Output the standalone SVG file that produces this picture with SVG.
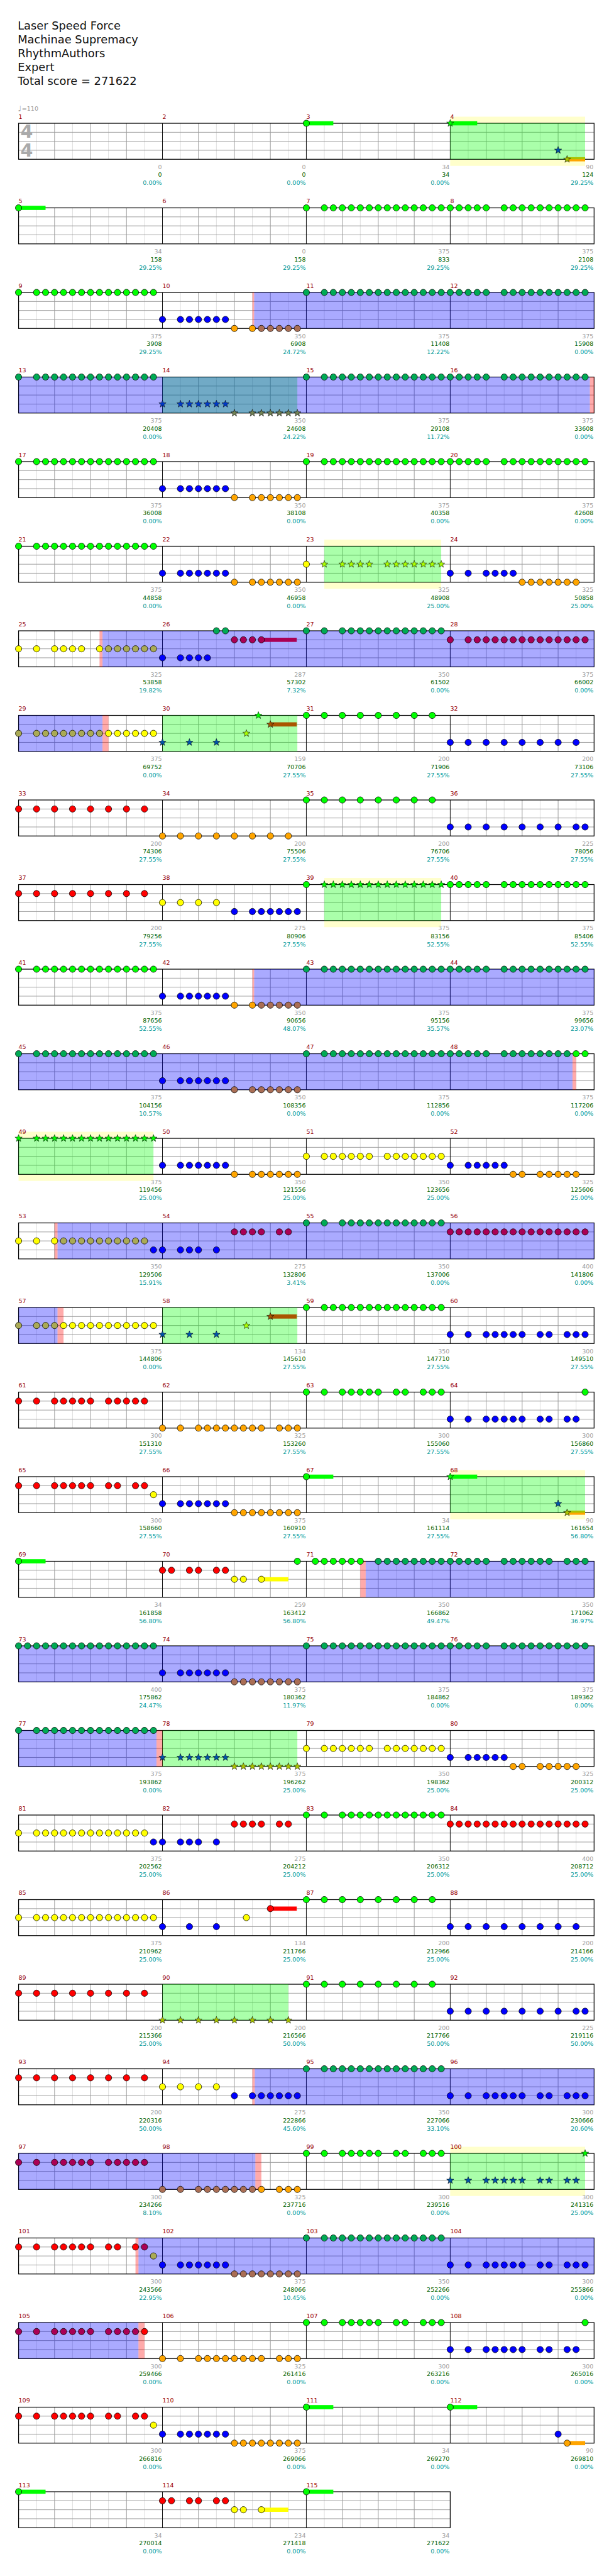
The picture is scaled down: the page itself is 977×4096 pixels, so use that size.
<svg xmlns="http://www.w3.org/2000/svg" xmlns:xlink="http://www.w3.org/1999/xlink" width="977" height="4096" viewBox="0 0 977 4096">
<defs>
<style>
.hd{font-family:"DejaVu Sans",Verdana,sans-serif;font-size:18.7px;fill:#111}
.mn{font-family:"DejaVu Sans",sans-serif;font-size:10px;fill:#990000}
.s1,.s2,.s3{font-family:"DejaVu Sans",sans-serif;font-size:10px;text-anchor:end}
.s1{fill:#a0a0a0}.s2{fill:#006400}.s3{fill:#009999}
.g{fill:#00ff00}.r{fill:#ff0000}.y{fill:#ffff00}.b{fill:#0000ff}.o{fill:#ffa500}
.gb{fill:#00aa55}.rb{fill:#aa0055}.yb{fill:#aaaa55}.ob{fill:#aa6e55}
.gs{fill:#00ff00}.ys{fill:#aaff00}.bs{fill:#0055aa}.os{fill:#aac300}.rs{fill:#aa5500}
.bt{fill:#0039c6}.ot{fill:#718255}
.bo{fill:#0000ff;fill-opacity:.333}.go{fill:#00ff00;fill-opacity:.333}.pk{fill:#ff0000;fill-opacity:.333}.yl{fill:#ffffcc}
.ts{font-family:"DejaVu Sans",sans-serif;font-weight:bold;font-size:30px;fill:#aaaaaa}
</style>
<circle id="c" r="5.3" stroke="#000" stroke-width=".8"/>
<path id="s" d="M0-6.3L1.53-2.1L5.99-1.95L2.47.8L3.7 5.1L0 2.6L-3.7 5.1L-2.47.8L-5.99-1.95L-1.53-2.1Z" stroke="#000" stroke-width=".6"/>
<g id="pA"><use href="#c"/><use href="#c" x="30"/><use href="#c" x="45"/><use href="#c" x="60"/><use href="#c" x="75"/><use href="#c" x="90"/><use href="#c" x="105"/><use href="#c" x="120"/><use href="#c" x="135"/><use href="#c" x="150"/><use href="#c" x="165"/><use href="#c" x="180"/><use href="#c" x="195"/><use href="#c" x="210"/><use href="#c" x="225"/></g>
<g id="pB"><use href="#c"/><use href="#c" x="15"/><use href="#c" x="30"/><use href="#c" x="45"/><use href="#c" x="60"/><use href="#c" x="90"/><use href="#c" x="105"/><use href="#c" x="120"/><use href="#c" x="135"/><use href="#c" x="150"/><use href="#c" x="165"/><use href="#c" x="180"/><use href="#c" x="195"/><use href="#c" x="210"/><use href="#c" x="225"/></g>
<g id="pC"><use href="#c"/><use href="#c" x="30"/><use href="#c" x="60"/><use href="#c" x="90"/><use href="#c" x="120"/><use href="#c" x="150"/><use href="#c" x="180"/><use href="#c" x="210"/></g>
<g id="pC2"><use href="#pC"/><use href="#c" x="225"/></g>
<g id="pD"><use href="#c"/><use href="#c" x="30"/><use href="#c" x="45"/><use href="#c" x="60"/><use href="#c" x="75"/><use href="#c" x="90"/><use href="#c" x="105"/></g>
<g id="pE"><use href="#c" x="120"/><use href="#c" x="150"/><use href="#c" x="165"/><use href="#c" x="180"/><use href="#c" x="195"/><use href="#c" x="210"/><use href="#c" x="225"/></g>
<g id="pE2"><use href="#pE"/><use href="#c" x="135"/></g>
<g id="pF2"><use href="#c"/><use href="#c" x="30"/><use href="#c" x="60"/><use href="#c" x="75"/><use href="#c" x="90"/><use href="#c" x="105"/><use href="#c" x="120"/><use href="#c" x="150"/><use href="#c" x="165"/><use href="#c" x="195"/><use href="#c" x="210"/></g>
<g id="pF"><use href="#pF2"/><use href="#c" x="225"/></g>
<g id="pG"><use href="#pF"/><use href="#c" x="135"/></g>
<g id="pH"><use href="#pF2"/><use href="#c" x="180"/></g>
<g id="pJ"><use href="#c"/><use href="#c" x="30"/><use href="#c" x="45"/><use href="#c" x="60"/><use href="#c" x="75"/><use href="#c" x="90"/><use href="#c" x="105"/><use href="#c" x="135"/><use href="#c" x="150"/><use href="#c" x="165"/><use href="#c" x="180"/><use href="#c" x="195"/><use href="#c" x="210"/><use href="#c" x="225"/></g>
<g id="pK"><use href="#c"/><use href="#c" x="30"/><use href="#c" x="60"/><use href="#c" x="75"/><use href="#c" x="90"/><use href="#c" x="105"/><use href="#c" x="120"/><use href="#c" x="135"/><use href="#c" x="150"/><use href="#c" x="165"/><use href="#c" x="180"/><use href="#c" x="195"/><use href="#c" x="210"/><use href="#c" x="225"/></g>
<g id="pL"><use href="#pJ"/><use href="#c" x="120"/></g>
<g id="pAll"><use href="#pB"/><use href="#c" x="75"/></g>
<g id="grid4">
<rect x="31" y="0" width="960" height="60" fill="#fff"/>
<path d="M61 0V60M121 0V60M181 0V60M241 0V60M301 0V60M361 0V60M421 0V60M481 0V60M541 0V60M601 0V60M661 0V60M721 0V60M781 0V60M841 0V60M901 0V60M961 0V60" stroke="#dcdcdc" fill="none"/>
<path d="M91 0V60M151 0V60M211 0V60M331 0V60M391 0V60M451 0V60M571 0V60M631 0V60M691 0V60M811 0V60M871 0V60M931 0V60M31 15H991M31 30H991M31 45H991" stroke="#999" fill="none"/>
<path d="M271 0V60M511 0V60M751 0V60" stroke="#000" fill="none"/>
<rect x="31" y="0" width="960" height="60" fill="none" stroke="#000" stroke-width="1.3"/>
</g>
<g id="grid3">
<rect x="31" y="0" width="720" height="60" fill="#fff"/>
<path d="M61 0V60M121 0V60M181 0V60M241 0V60M301 0V60M361 0V60M421 0V60M481 0V60M541 0V60M601 0V60M661 0V60M721 0V60" stroke="#dcdcdc" fill="none"/>
<path d="M91 0V60M151 0V60M211 0V60M331 0V60M391 0V60M451 0V60M571 0V60M631 0V60M691 0V60M31 15H751M31 30H751M31 45H751" stroke="#999" fill="none"/>
<path d="M271 0V60M511 0V60" stroke="#000" fill="none"/>
<rect x="31" y="0" width="720" height="60" fill="none" stroke="#000" stroke-width="1.3"/>
</g>
</defs>
<rect width="977" height="4096" fill="#fff"/>
<g transform="scale(0.9539)">
<g id="header">
<text class="hd" x="29.5" y="49.3">Laser Speed Force</text>
<text class="hd" x="29.5" y="72.3">Machinae Supremacy</text>
<text class="hd" x="29.5" y="95.3">RhythmAuthors</text>
<text class="hd" x="29.5" y="118.3">Expert</text>
<text class="hd" x="29.5" y="141.3">Total score = 271622</text>
<text x="30" y="186" font-family="DejaVu Sans,sans-serif" font-size="13" fill="#999">♩</text>
<text x="36.5" y="185" font-family="DejaVu Sans,sans-serif" font-size="10" fill="#999">=110</text>
</g>

<g id="row1" transform="translate(0,205.5)">
<rect class="yl" x="751" y="-11" width="225" height="82"/>
<use href="#grid4"/>
<text class="ts" x="34" y="24.5">4</text><text class="ts" x="34" y="56">4</text>
<rect class="g" x="511" y="-3.5" width="45" height="7"/>
<rect class="g" x="751" y="-3.5" width="45" height="7"/>
<rect class="o" x="946" y="56.5" width="30" height="7"/>
<rect class="go" x="751" y="0" width="225" height="60"/>
<g id="m1"><text class="mn" x="31" y="-7.5">1</text><text class="s1" x="270" y="76">0</text><text class="s2" x="270" y="89.4">0</text><text class="s3" x="270" y="103">0.00%</text></g>
<g id="m2"><text class="mn" x="271" y="-7.5">2</text><text class="s1" x="510" y="76">0</text><text class="s2" x="510" y="89.4">0</text><text class="s3" x="510" y="103">0.00%</text></g>
<g id="m3"><text class="mn" x="511" y="-7.5">3</text><text class="s1" x="750" y="76">34</text><text class="s2" x="750" y="89.4">34</text><text class="s3" x="750" y="103">0.00%</text><use href="#c" x="511" class="g"/></g>
<g id="m4"><text class="mn" x="751" y="-7.5">4</text><text class="s1" x="990" y="76">90</text><text class="s2" x="990" y="89.4">124</text><text class="s3" x="990" y="103">29.25%</text><use href="#s" x="751" y="0" class="gs"/><use href="#s" x="931" y="45" class="bs"/><use href="#s" x="946" y="60" class="os"/></g>
</g>

<g id="row2" transform="translate(0,346.5)">
<use href="#grid4"/>
<rect class="g" x="31" y="-3.5" width="45" height="7"/>
<g id="m5"><text class="mn" x="31" y="-7.5">5</text><text class="s1" x="270" y="76">34</text><text class="s2" x="270" y="89.4">158</text><text class="s3" x="270" y="103">29.25%</text><use href="#c" x="31" class="g"/></g>
<g id="m6"><text class="mn" x="271" y="-7.5">6</text><text class="s1" x="510" y="76">0</text><text class="s2" x="510" y="89.4">158</text><text class="s3" x="510" y="103">29.25%</text></g>
<g id="m7"><text class="mn" x="511" y="-7.5">7</text><text class="s1" x="750" y="76">375</text><text class="s2" x="750" y="89.4">833</text><text class="s3" x="750" y="103">29.25%</text><use href="#pA" x="511" class="g"/></g>
<g id="m8"><text class="mn" x="751" y="-7.5">8</text><text class="s1" x="990" y="76">375</text><text class="s2" x="990" y="89.4">2108</text><text class="s3" x="990" y="103">29.25%</text><use href="#pB" x="751" class="g"/></g>
</g>

<g id="row3" transform="translate(0,487.5)">
<use href="#grid4"/>
<rect class="pk" x="421" y="0" width="3" height="60"/>
<rect class="bo" x="424" y="0" width="567" height="60"/>
<g id="m9"><text class="mn" x="31" y="-7.5">9</text><text class="s1" x="270" y="76">375</text><text class="s2" x="270" y="89.4">3908</text><text class="s3" x="270" y="103">29.25%</text><use href="#pA" x="31" class="g"/></g>
<g id="m10"><text class="mn" x="271" y="-7.5">10</text><text class="s1" x="510" y="76">350</text><text class="s2" x="510" y="89.4">6908</text><text class="s3" x="510" y="103">24.72%</text><use href="#pD" x="271" y="45" class="b"/><use href="#c" x="391" y="60" class="o"/><use href="#c" x="421" y="60" class="o"/><use href="#c" x="436" y="60" class="ob"/><use href="#c" x="451" y="60" class="ob"/><use href="#c" x="466" y="60" class="ob"/><use href="#c" x="481" y="60" class="ob"/><use href="#c" x="496" y="60" class="ob"/></g>
<g id="m11"><text class="mn" x="511" y="-7.5">11</text><text class="s1" x="750" y="76">375</text><text class="s2" x="750" y="89.4">11408</text><text class="s3" x="750" y="103">12.22%</text><use href="#pA" x="511" class="gb"/></g>
<g id="m12"><text class="mn" x="751" y="-7.5">12</text><text class="s1" x="990" y="76">375</text><text class="s2" x="990" y="89.4">15908</text><text class="s3" x="990" y="103">0.00%</text><use href="#pB" x="751" class="gb"/></g>
</g>

<g id="row4" transform="translate(0,628.5)">
<use href="#grid4"/>
<rect class="go" x="271" y="0" width="225" height="60"/>
<rect class="bo" x="31" y="0" width="953" height="60"/>
<rect class="pk" x="984" y="0" width="7" height="60"/>
<g id="m13"><text class="mn" x="31" y="-7.5">13</text><text class="s1" x="270" y="76">375</text><text class="s2" x="270" y="89.4">20408</text><text class="s3" x="270" y="103">0.00%</text><use href="#pA" x="31" class="gb"/></g>
<g id="m14"><text class="mn" x="271" y="-7.5">14</text><text class="s1" x="510" y="76">350</text><text class="s2" x="510" y="89.4">24608</text><text class="s3" x="510" y="103">24.22%</text><use href="#s" x="271" y="45" class="bt"/><use href="#s" x="301" y="45" class="bt"/><use href="#s" x="316" y="45" class="bt"/><use href="#s" x="331" y="45" class="bt"/><use href="#s" x="346" y="45" class="bt"/><use href="#s" x="361" y="45" class="bt"/><use href="#s" x="376" y="45" class="bt"/><use href="#s" x="391" y="60" class="ot"/><use href="#s" x="421" y="60" class="ot"/><use href="#s" x="436" y="60" class="ot"/><use href="#s" x="451" y="60" class="ot"/><use href="#s" x="466" y="60" class="ot"/><use href="#s" x="481" y="60" class="ot"/><use href="#s" x="496" y="60" class="ot"/></g>
<g id="m15"><text class="mn" x="511" y="-7.5">15</text><text class="s1" x="750" y="76">375</text><text class="s2" x="750" y="89.4">29108</text><text class="s3" x="750" y="103">11.72%</text><use href="#pA" x="511" class="gb"/></g>
<g id="m16"><text class="mn" x="751" y="-7.5">16</text><text class="s1" x="990" y="76">375</text><text class="s2" x="990" y="89.4">33608</text><text class="s3" x="990" y="103">0.00%</text><use href="#pB" x="751" class="gb"/></g>
</g>

<g id="row5" transform="translate(0,769.5)">
<use href="#grid4"/>
<g id="m17"><text class="mn" x="31" y="-7.5">17</text><text class="s1" x="270" y="76">375</text><text class="s2" x="270" y="89.4">36008</text><text class="s3" x="270" y="103">0.00%</text><use href="#pA" x="31" class="g"/></g>
<g id="m18"><text class="mn" x="271" y="-7.5">18</text><text class="s1" x="510" y="76">350</text><text class="s2" x="510" y="89.4">38108</text><text class="s3" x="510" y="103">0.00%</text><use href="#pD" x="271" y="45" class="b"/><use href="#pE" x="271" y="60" class="o"/></g>
<g id="m19"><text class="mn" x="511" y="-7.5">19</text><text class="s1" x="750" y="76">375</text><text class="s2" x="750" y="89.4">40358</text><text class="s3" x="750" y="103">0.00%</text><use href="#pA" x="511" class="g"/></g>
<g id="m20"><text class="mn" x="751" y="-7.5">20</text><text class="s1" x="990" y="76">375</text><text class="s2" x="990" y="89.4">42608</text><text class="s3" x="990" y="103">0.00%</text><use href="#pB" x="751" class="g"/></g>
</g>

<g id="row6" transform="translate(0,910.5)">
<rect class="yl" x="541" y="-11" width="195" height="82"/>
<use href="#grid4"/>
<rect class="go" x="541" y="0" width="195" height="60"/>
<g id="m21"><text class="mn" x="31" y="-7.5">21</text><text class="s1" x="270" y="76">375</text><text class="s2" x="270" y="89.4">44858</text><text class="s3" x="270" y="103">0.00%</text><use href="#pA" x="31" class="g"/></g>
<g id="m22"><text class="mn" x="271" y="-7.5">22</text><text class="s1" x="510" y="76">350</text><text class="s2" x="510" y="89.4">46958</text><text class="s3" x="510" y="103">0.00%</text><use href="#pD" x="271" y="45" class="b"/><use href="#pE" x="271" y="60" class="o"/></g>
<g id="m23"><text class="mn" x="511" y="-7.5">23</text><text class="s1" x="750" y="76">325</text><text class="s2" x="750" y="89.4">48908</text><text class="s3" x="750" y="103">25.00%</text><use href="#c" x="511" y="30" class="y"/><use href="#s" x="541" y="30" class="ys"/><use href="#s" x="571" y="30" class="ys"/><use href="#s" x="586" y="30" class="ys"/><use href="#s" x="601" y="30" class="ys"/><use href="#s" x="616" y="30" class="ys"/><use href="#s" x="646" y="30" class="ys"/><use href="#s" x="661" y="30" class="ys"/><use href="#s" x="676" y="30" class="ys"/><use href="#s" x="691" y="30" class="ys"/><use href="#s" x="706" y="30" class="ys"/><use href="#s" x="721" y="30" class="ys"/><use href="#s" x="736" y="30" class="ys"/></g>
<g id="m24"><text class="mn" x="751" y="-7.5">24</text><text class="s1" x="990" y="76">325</text><text class="s2" x="990" y="89.4">50858</text><text class="s3" x="990" y="103">25.00%</text><use href="#c" x="751" y="45" class="b"/><use href="#c" x="781" y="45" class="b"/><use href="#c" x="811" y="45" class="b"/><use href="#c" x="826" y="45" class="b"/><use href="#c" x="841" y="45" class="b"/><use href="#c" x="856" y="45" class="b"/><use href="#c" x="871" y="60" class="o"/><use href="#c" x="886" y="60" class="o"/><use href="#c" x="901" y="60" class="o"/><use href="#c" x="916" y="60" class="o"/><use href="#c" x="931" y="60" class="o"/><use href="#c" x="946" y="60" class="o"/><use href="#c" x="961" y="60" class="o"/></g>
</g>

<g id="row7" transform="translate(0,1051.5)">
<use href="#grid4"/>
<rect class="r" x="436" y="11.5" width="59" height="7"/>
<rect class="pk" x="166" y="0" width="5" height="60"/>
<rect class="bo" x="171" y="0" width="820" height="60"/>
<g id="m25"><text class="mn" x="31" y="-7.5">25</text><text class="s1" x="270" y="76">325</text><text class="s2" x="270" y="89.4">53858</text><text class="s3" x="270" y="103">19.82%</text><use href="#c" x="31" y="30" class="y"/><use href="#c" x="61" y="30" class="y"/><use href="#c" x="91" y="30" class="y"/><use href="#c" x="106" y="30" class="y"/><use href="#c" x="121" y="30" class="y"/><use href="#c" x="136" y="30" class="y"/><use href="#c" x="166" y="30" class="y"/><use href="#c" x="181" y="30" class="yb"/><use href="#c" x="196" y="30" class="yb"/><use href="#c" x="211" y="30" class="yb"/><use href="#c" x="226" y="30" class="yb"/><use href="#c" x="241" y="30" class="yb"/><use href="#c" x="256" y="30" class="yb"/></g>
<g id="m26"><text class="mn" x="271" y="-7.5">26</text><text class="s1" x="510" y="76">287</text><text class="s2" x="510" y="89.4">57302</text><text class="s3" x="510" y="103">7.32%</text><use href="#c" x="271" y="45" class="b"/><use href="#c" x="301" y="45" class="b"/><use href="#c" x="316" y="45" class="b"/><use href="#c" x="331" y="45" class="b"/><use href="#c" x="346" y="45" class="b"/><use href="#c" x="361" class="gb"/><use href="#c" x="376" class="gb"/><use href="#c" x="391" y="15" class="rb"/><use href="#c" x="406" y="15" class="rb"/><use href="#c" x="421" y="15" class="rb"/><use href="#c" x="436" y="15" class="rb"/></g>
<g id="m27"><text class="mn" x="511" y="-7.5">27</text><text class="s1" x="750" y="76">350</text><text class="s2" x="750" y="89.4">61502</text><text class="s3" x="750" y="103">0.00%</text><use href="#pK" x="511" class="gb"/></g>
<g id="m28"><text class="mn" x="751" y="-7.5">28</text><text class="s1" x="990" y="76">375</text><text class="s2" x="990" y="89.4">66002</text><text class="s3" x="990" y="103">0.00%</text><use href="#pA" x="751" y="15" class="rb"/></g>
</g>

<g id="row8" transform="translate(0,1192.5)">
<use href="#grid4"/>
<rect class="r" x="451" y="11.5" width="44" height="7"/>
<rect class="go" x="271" y="0" width="225" height="60"/>
<rect class="bo" x="31" y="0" width="140" height="60"/>
<rect class="pk" x="171" y="0" width="10" height="60"/>
<g id="m29"><text class="mn" x="31" y="-7.5">29</text><text class="s1" x="270" y="76">375</text><text class="s2" x="270" y="89.4">69752</text><text class="s3" x="270" y="103">0.00%</text><use href="#c" x="31" y="30" class="yb"/><use href="#c" x="61" y="30" class="yb"/><use href="#c" x="76" y="30" class="yb"/><use href="#c" x="91" y="30" class="yb"/><use href="#c" x="106" y="30" class="yb"/><use href="#c" x="121" y="30" class="yb"/><use href="#c" x="136" y="30" class="yb"/><use href="#c" x="151" y="30" class="yb"/><use href="#c" x="166" y="30" class="yb"/><use href="#c" x="181" y="30" class="y"/><use href="#c" x="196" y="30" class="y"/><use href="#c" x="211" y="30" class="y"/><use href="#c" x="226" y="30" class="y"/><use href="#c" x="241" y="30" class="y"/><use href="#c" x="256" y="30" class="y"/></g>
<g id="m30"><text class="mn" x="271" y="-7.5">30</text><text class="s1" x="510" y="76">159</text><text class="s2" x="510" y="89.4">70706</text><text class="s3" x="510" y="103">27.55%</text><use href="#s" x="271" y="45" class="bs"/><use href="#s" x="316" y="45" class="bs"/><use href="#s" x="361" y="45" class="bs"/><use href="#s" x="411" y="30" class="ys"/><use href="#s" x="431" y="0" class="gs"/><use href="#s" x="451" y="15" class="rs"/></g>
<g id="m31"><text class="mn" x="511" y="-7.5">31</text><text class="s1" x="750" y="76">200</text><text class="s2" x="750" y="89.4">71906</text><text class="s3" x="750" y="103">27.55%</text><use href="#pC" x="511" class="g"/></g>
<g id="m32"><text class="mn" x="751" y="-7.5">32</text><text class="s1" x="990" y="76">200</text><text class="s2" x="990" y="89.4">73106</text><text class="s3" x="990" y="103">27.55%</text><use href="#pC" x="751" y="45" class="b"/></g>
</g>

<g id="row9" transform="translate(0,1333.5)">
<use href="#grid4"/>
<g id="m33"><text class="mn" x="31" y="-7.5">33</text><text class="s1" x="270" y="76">200</text><text class="s2" x="270" y="89.4">74306</text><text class="s3" x="270" y="103">27.55%</text><use href="#pC" x="31" y="15" class="r"/></g>
<g id="m34"><text class="mn" x="271" y="-7.5">34</text><text class="s1" x="510" y="76">200</text><text class="s2" x="510" y="89.4">75506</text><text class="s3" x="510" y="103">27.55%</text><use href="#pC" x="271" y="60" class="o"/></g>
<g id="m35"><text class="mn" x="511" y="-7.5">35</text><text class="s1" x="750" y="76">200</text><text class="s2" x="750" y="89.4">76706</text><text class="s3" x="750" y="103">27.55%</text><use href="#pC" x="511" class="g"/></g>
<g id="m36"><text class="mn" x="751" y="-7.5">36</text><text class="s1" x="990" y="76">225</text><text class="s2" x="990" y="89.4">78056</text><text class="s3" x="990" y="103">27.55%</text><use href="#pC2" x="751" y="45" class="b"/></g>
</g>

<g id="row10" transform="translate(0,1474.5)">
<rect class="yl" x="541" y="-11" width="195" height="82"/>
<use href="#grid4"/>
<rect class="go" x="541" y="0" width="195" height="60"/>
<g id="m37"><text class="mn" x="31" y="-7.5">37</text><text class="s1" x="270" y="76">200</text><text class="s2" x="270" y="89.4">79256</text><text class="s3" x="270" y="103">27.55%</text><use href="#pC" x="31" y="15" class="r"/></g>
<g id="m38"><text class="mn" x="271" y="-7.5">38</text><text class="s1" x="510" y="76">275</text><text class="s2" x="510" y="89.4">80906</text><text class="s3" x="510" y="103">27.55%</text><use href="#c" x="271" y="30" class="y"/><use href="#c" x="301" y="30" class="y"/><use href="#c" x="331" y="30" class="y"/><use href="#c" x="361" y="30" class="y"/><use href="#pE" x="271" y="45" class="b"/></g>
<g id="m39"><text class="mn" x="511" y="-7.5">39</text><text class="s1" x="750" y="76">375</text><text class="s2" x="750" y="89.4">83156</text><text class="s3" x="750" y="103">52.55%</text><use href="#c" x="511" class="g"/><use href="#s" x="541" class="gs"/><use href="#s" x="556" class="gs"/><use href="#s" x="571" class="gs"/><use href="#s" x="586" class="gs"/><use href="#s" x="601" class="gs"/><use href="#s" x="616" class="gs"/><use href="#s" x="631" class="gs"/><use href="#s" x="646" class="gs"/><use href="#s" x="661" class="gs"/><use href="#s" x="676" class="gs"/><use href="#s" x="691" class="gs"/><use href="#s" x="706" class="gs"/><use href="#s" x="721" class="gs"/><use href="#s" x="736" class="gs"/></g>
<g id="m40"><text class="mn" x="751" y="-7.5">40</text><text class="s1" x="990" y="76">375</text><text class="s2" x="990" y="89.4">85406</text><text class="s3" x="990" y="103">52.55%</text><use href="#pB" x="751" class="g"/></g>
</g>

<g id="row11" transform="translate(0,1615.5)">
<use href="#grid4"/>
<rect class="pk" x="421" y="0" width="3" height="60"/>
<rect class="bo" x="424" y="0" width="567" height="60"/>
<g id="m41"><text class="mn" x="31" y="-7.5">41</text><text class="s1" x="270" y="76">375</text><text class="s2" x="270" y="89.4">87656</text><text class="s3" x="270" y="103">52.55%</text><use href="#pA" x="31" class="g"/></g>
<g id="m42"><text class="mn" x="271" y="-7.5">42</text><text class="s1" x="510" y="76">350</text><text class="s2" x="510" y="89.4">90656</text><text class="s3" x="510" y="103">48.07%</text><use href="#pD" x="271" y="45" class="b"/><use href="#c" x="391" y="60" class="o"/><use href="#c" x="421" y="60" class="o"/><use href="#c" x="436" y="60" class="ob"/><use href="#c" x="451" y="60" class="ob"/><use href="#c" x="466" y="60" class="ob"/><use href="#c" x="481" y="60" class="ob"/><use href="#c" x="496" y="60" class="ob"/></g>
<g id="m43"><text class="mn" x="511" y="-7.5">43</text><text class="s1" x="750" y="76">375</text><text class="s2" x="750" y="89.4">95156</text><text class="s3" x="750" y="103">35.57%</text><use href="#pA" x="511" class="gb"/></g>
<g id="m44"><text class="mn" x="751" y="-7.5">44</text><text class="s1" x="990" y="76">375</text><text class="s2" x="990" y="89.4">99656</text><text class="s3" x="990" y="103">23.07%</text><use href="#pB" x="751" class="gb"/></g>
</g>

<g id="row12" transform="translate(0,1756.5)">
<use href="#grid4"/>
<rect class="bo" x="31" y="0" width="924" height="60"/>
<rect class="pk" x="955" y="0" width="6" height="60"/>
<g id="m45"><text class="mn" x="31" y="-7.5">45</text><text class="s1" x="270" y="76">375</text><text class="s2" x="270" y="89.4">104156</text><text class="s3" x="270" y="103">10.57%</text><use href="#pA" x="31" class="gb"/></g>
<g id="m46"><text class="mn" x="271" y="-7.5">46</text><text class="s1" x="510" y="76">350</text><text class="s2" x="510" y="89.4">108356</text><text class="s3" x="510" y="103">0.00%</text><use href="#pD" x="271" y="45" class="b"/><use href="#pE" x="271" y="60" class="ob"/></g>
<g id="m47"><text class="mn" x="511" y="-7.5">47</text><text class="s1" x="750" y="76">375</text><text class="s2" x="750" y="89.4">112856</text><text class="s3" x="750" y="103">0.00%</text><use href="#pA" x="511" class="gb"/></g>
<g id="m48"><text class="mn" x="751" y="-7.5">48</text><text class="s1" x="990" y="76">375</text><text class="s2" x="990" y="89.4">117206</text><text class="s3" x="990" y="103">0.00%</text><use href="#c" x="751" class="gb"/><use href="#c" x="766" class="gb"/><use href="#c" x="781" class="gb"/><use href="#c" x="796" class="gb"/><use href="#c" x="811" class="gb"/><use href="#c" x="841" class="gb"/><use href="#c" x="856" class="gb"/><use href="#c" x="871" class="gb"/><use href="#c" x="886" class="gb"/><use href="#c" x="901" class="gb"/><use href="#c" x="916" class="gb"/><use href="#c" x="931" class="gb"/><use href="#c" x="946" class="gb"/><use href="#c" x="961" class="g"/><use href="#c" x="976" class="g"/></g>
</g>

<g id="row13" transform="translate(0,1897.5)">
<rect class="yl" x="31" y="-11" width="225" height="82"/>
<use href="#grid4"/>
<rect class="go" x="31" y="0" width="225" height="60"/>
<g id="m49"><text class="mn" x="31" y="-7.5">49</text><text class="s1" x="270" y="76">375</text><text class="s2" x="270" y="89.4">119456</text><text class="s3" x="270" y="103">25.00%</text><use href="#s" x="31" class="gs"/><use href="#s" x="61" class="gs"/><use href="#s" x="76" class="gs"/><use href="#s" x="91" class="gs"/><use href="#s" x="106" class="gs"/><use href="#s" x="121" class="gs"/><use href="#s" x="136" class="gs"/><use href="#s" x="151" class="gs"/><use href="#s" x="166" class="gs"/><use href="#s" x="181" class="gs"/><use href="#s" x="196" class="gs"/><use href="#s" x="211" class="gs"/><use href="#s" x="226" class="gs"/><use href="#s" x="241" class="gs"/><use href="#s" x="256" class="gs"/></g>
<g id="m50"><text class="mn" x="271" y="-7.5">50</text><text class="s1" x="510" y="76">350</text><text class="s2" x="510" y="89.4">121556</text><text class="s3" x="510" y="103">25.00%</text><use href="#pD" x="271" y="45" class="b"/><use href="#pE" x="271" y="60" class="o"/></g>
<g id="m51"><text class="mn" x="511" y="-7.5">51</text><text class="s1" x="750" y="76">350</text><text class="s2" x="750" y="89.4">123656</text><text class="s3" x="750" y="103">25.00%</text><use href="#pJ" x="511" y="30" class="y"/></g>
<g id="m52"><text class="mn" x="751" y="-7.5">52</text><text class="s1" x="990" y="76">325</text><text class="s2" x="990" y="89.4">125606</text><text class="s3" x="990" y="103">25.00%</text><use href="#c" x="751" y="45" class="b"/><use href="#c" x="781" y="45" class="b"/><use href="#c" x="796" y="45" class="b"/><use href="#c" x="811" y="45" class="b"/><use href="#c" x="826" y="45" class="b"/><use href="#c" x="841" y="45" class="b"/><use href="#c" x="856" y="60" class="o"/><use href="#c" x="871" y="60" class="o"/><use href="#c" x="901" y="60" class="o"/><use href="#c" x="916" y="60" class="o"/><use href="#c" x="931" y="60" class="o"/><use href="#c" x="946" y="60" class="o"/><use href="#c" x="961" y="60" class="o"/></g>
</g>

<g id="row14" transform="translate(0,2038.5)">
<use href="#grid4"/>
<rect class="pk" x="91" y="0" width="5" height="60"/>
<rect class="bo" x="96" y="0" width="895" height="60"/>
<g id="m53"><text class="mn" x="31" y="-7.5">53</text><text class="s1" x="270" y="76">350</text><text class="s2" x="270" y="89.4">129506</text><text class="s3" x="270" y="103">15.91%</text><use href="#c" x="31" y="30" class="y"/><use href="#c" x="61" y="30" class="y"/><use href="#c" x="91" y="30" class="y"/><use href="#c" x="106" y="30" class="yb"/><use href="#c" x="121" y="30" class="yb"/><use href="#c" x="136" y="30" class="yb"/><use href="#c" x="151" y="30" class="yb"/><use href="#c" x="166" y="30" class="yb"/><use href="#c" x="181" y="30" class="yb"/><use href="#c" x="196" y="30" class="yb"/><use href="#c" x="211" y="30" class="yb"/><use href="#c" x="226" y="30" class="yb"/><use href="#c" x="241" y="30" class="yb"/><use href="#c" x="256" y="45" class="b"/></g>
<g id="m54"><text class="mn" x="271" y="-7.5">54</text><text class="s1" x="510" y="76">275</text><text class="s2" x="510" y="89.4">132806</text><text class="s3" x="510" y="103">3.41%</text><use href="#c" x="271" y="45" class="b"/><use href="#c" x="301" y="45" class="b"/><use href="#c" x="316" y="45" class="b"/><use href="#c" x="331" y="45" class="b"/><use href="#c" x="361" y="45" class="b"/><use href="#c" x="391" y="15" class="rb"/><use href="#c" x="406" y="15" class="rb"/><use href="#c" x="421" y="15" class="rb"/><use href="#c" x="436" y="15" class="rb"/><use href="#c" x="466" y="15" class="rb"/><use href="#c" x="481" y="15" class="rb"/></g>
<g id="m55"><text class="mn" x="511" y="-7.5">55</text><text class="s1" x="750" y="76">350</text><text class="s2" x="750" y="89.4">137006</text><text class="s3" x="750" y="103">0.00%</text><use href="#pK" x="511" class="gb"/></g>
<g id="m56"><text class="mn" x="751" y="-7.5">56</text><text class="s1" x="990" y="76">400</text><text class="s2" x="990" y="89.4">141806</text><text class="s3" x="990" y="103">0.00%</text><use href="#pAll" x="751" y="15" class="rb"/></g>
</g>

<g id="row15" transform="translate(0,2179.5)">
<use href="#grid4"/>
<rect class="r" x="451" y="11.5" width="44" height="7"/>
<rect class="go" x="271" y="0" width="225" height="60"/>
<rect class="bo" x="31" y="0" width="65" height="60"/>
<rect class="pk" x="96" y="0" width="10" height="60"/>
<g id="m57"><text class="mn" x="31" y="-7.5">57</text><text class="s1" x="270" y="76">375</text><text class="s2" x="270" y="89.4">144806</text><text class="s3" x="270" y="103">0.00%</text><use href="#c" x="31" y="30" class="yb"/><use href="#c" x="61" y="30" class="yb"/><use href="#c" x="76" y="30" class="yb"/><use href="#c" x="91" y="30" class="yb"/><use href="#c" x="106" y="30" class="y"/><use href="#c" x="121" y="30" class="y"/><use href="#c" x="136" y="30" class="y"/><use href="#c" x="151" y="30" class="y"/><use href="#c" x="166" y="30" class="y"/><use href="#c" x="181" y="30" class="y"/><use href="#c" x="196" y="30" class="y"/><use href="#c" x="211" y="30" class="y"/><use href="#c" x="226" y="30" class="y"/><use href="#c" x="241" y="30" class="y"/><use href="#c" x="256" y="30" class="y"/></g>
<g id="m58"><text class="mn" x="271" y="-7.5">58</text><text class="s1" x="510" y="76">134</text><text class="s2" x="510" y="89.4">145610</text><text class="s3" x="510" y="103">27.55%</text><use href="#s" x="271" y="45" class="bs"/><use href="#s" x="316" y="45" class="bs"/><use href="#s" x="361" y="45" class="bs"/><use href="#s" x="411" y="30" class="ys"/><use href="#s" x="451" y="15" class="rs"/></g>
<g id="m59"><text class="mn" x="511" y="-7.5">59</text><text class="s1" x="750" y="76">350</text><text class="s2" x="750" y="89.4">147710</text><text class="s3" x="750" y="103">27.55%</text><use href="#pL" x="511" class="g"/></g>
<g id="m60"><text class="mn" x="751" y="-7.5">60</text><text class="s1" x="990" y="76">300</text><text class="s2" x="990" y="89.4">149510</text><text class="s3" x="990" y="103">27.55%</text><use href="#pF" x="751" y="45" class="b"/></g>
</g>

<g id="row16" transform="translate(0,2320.5)">
<use href="#grid4"/>
<g id="m61"><text class="mn" x="31" y="-7.5">61</text><text class="s1" x="270" y="76">300</text><text class="s2" x="270" y="89.4">151310</text><text class="s3" x="270" y="103">27.55%</text><use href="#pH" x="31" y="15" class="r"/></g>
<g id="m62"><text class="mn" x="271" y="-7.5">62</text><text class="s1" x="510" y="76">325</text><text class="s2" x="510" y="89.4">153260</text><text class="s3" x="510" y="103">27.55%</text><use href="#pG" x="271" y="60" class="o"/></g>
<g id="m63"><text class="mn" x="511" y="-7.5">63</text><text class="s1" x="750" y="76">300</text><text class="s2" x="750" y="89.4">155060</text><text class="s3" x="750" y="103">27.55%</text><use href="#pF" x="511" class="g"/></g>
<g id="m64"><text class="mn" x="751" y="-7.5">64</text><text class="s1" x="990" y="76">300</text><text class="s2" x="990" y="89.4">156860</text><text class="s3" x="990" y="103">27.55%</text><use href="#pF2" x="751" y="45" class="b"/><use href="#c" x="976" class="g"/></g>
</g>

<g id="row17" transform="translate(0,2461.5)">
<rect class="yl" x="751" y="-11" width="225" height="82"/>
<use href="#grid4"/>
<rect class="g" x="511" y="-3.5" width="45" height="7"/>
<rect class="g" x="751" y="-3.5" width="45" height="7"/>
<rect class="o" x="946" y="56.5" width="30" height="7"/>
<rect class="go" x="751" y="0" width="225" height="60"/>
<g id="m65"><text class="mn" x="31" y="-7.5">65</text><text class="s1" x="270" y="76">300</text><text class="s2" x="270" y="89.4">158660</text><text class="s3" x="270" y="103">27.55%</text><use href="#pF2" x="31" y="15" class="r"/><use href="#c" x="256" y="30" class="y"/></g>
<g id="m66"><text class="mn" x="271" y="-7.5">66</text><text class="s1" x="510" y="76">375</text><text class="s2" x="510" y="89.4">160910</text><text class="s3" x="510" y="103">27.55%</text><use href="#pD" x="271" y="45" class="b"/><use href="#pE2" x="271" y="60" class="o"/></g>
<g id="m67"><text class="mn" x="511" y="-7.5">67</text><text class="s1" x="750" y="76">34</text><text class="s2" x="750" y="89.4">161114</text><text class="s3" x="750" y="103">27.55%</text><use href="#c" x="511" class="g"/></g>
<g id="m68"><text class="mn" x="751" y="-7.5">68</text><text class="s1" x="990" y="76">90</text><text class="s2" x="990" y="89.4">161654</text><text class="s3" x="990" y="103">56.80%</text><use href="#s" x="751" y="0" class="gs"/><use href="#s" x="931" y="45" class="bs"/><use href="#s" x="946" y="60" class="os"/></g>
</g>

<g id="row18" transform="translate(0,2602.5)">
<use href="#grid4"/>
<rect class="g" x="31" y="-3.5" width="45" height="7"/>
<rect class="y" x="436" y="26.5" width="45" height="7"/>
<rect class="pk" x="601" y="0" width="9" height="60"/>
<rect class="bo" x="610" y="0" width="381" height="60"/>
<g id="m69"><text class="mn" x="31" y="-7.5">69</text><text class="s1" x="270" y="76">34</text><text class="s2" x="270" y="89.4">161858</text><text class="s3" x="270" y="103">56.80%</text><use href="#c" x="31" class="g"/></g>
<g id="m70"><text class="mn" x="271" y="-7.5">70</text><text class="s1" x="510" y="76">259</text><text class="s2" x="510" y="89.4">163412</text><text class="s3" x="510" y="103">56.80%</text><use href="#c" x="271" y="15" class="r"/><use href="#c" x="286" y="15" class="r"/><use href="#c" x="316" y="15" class="r"/><use href="#c" x="331" y="15" class="r"/><use href="#c" x="361" y="15" class="r"/><use href="#c" x="376" y="15" class="r"/><use href="#c" x="391" y="30" class="y"/><use href="#c" x="406" y="30" class="y"/><use href="#c" x="436" y="30" class="y"/><use href="#c" x="496" class="g"/></g>
<g id="m71"><text class="mn" x="511" y="-7.5">71</text><text class="s1" x="750" y="76">350</text><text class="s2" x="750" y="89.4">166862</text><text class="s3" x="750" y="103">49.47%</text><use href="#c" x="526" class="g"/><use href="#c" x="541" class="g"/><use href="#c" x="556" class="g"/><use href="#c" x="571" class="g"/><use href="#c" x="586" class="g"/><use href="#c" x="601" class="g"/><use href="#c" x="631" class="gb"/><use href="#c" x="646" class="gb"/><use href="#c" x="661" class="gb"/><use href="#c" x="676" class="gb"/><use href="#c" x="691" class="gb"/><use href="#c" x="706" class="gb"/><use href="#c" x="721" class="gb"/><use href="#c" x="736" class="gb"/></g>
<g id="m72"><text class="mn" x="751" y="-7.5">72</text><text class="s1" x="990" y="76">350</text><text class="s2" x="990" y="89.4">171062</text><text class="s3" x="990" y="103">36.97%</text><use href="#c" x="751" class="gb"/><use href="#c" x="766" class="gb"/><use href="#c" x="781" class="gb"/><use href="#c" x="796" class="gb"/><use href="#c" x="811" class="gb"/><use href="#c" x="841" class="gb"/><use href="#c" x="856" class="gb"/><use href="#c" x="871" class="gb"/><use href="#c" x="886" class="gb"/><use href="#c" x="901" class="gb"/><use href="#c" x="916" class="gb"/><use href="#c" x="946" class="gb"/><use href="#c" x="961" class="gb"/><use href="#c" x="976" class="gb"/></g>
</g>

<g id="row19" transform="translate(0,2743.5)">
<use href="#grid4"/>
<rect class="bo" x="31" y="0" width="960" height="60"/>
<g id="m73"><text class="mn" x="31" y="-7.5">73</text><text class="s1" x="270" y="76">400</text><text class="s2" x="270" y="89.4">175862</text><text class="s3" x="270" y="103">24.47%</text><use href="#pAll" x="31" class="gb"/></g>
<g id="m74"><text class="mn" x="271" y="-7.5">74</text><text class="s1" x="510" y="76">375</text><text class="s2" x="510" y="89.4">180362</text><text class="s3" x="510" y="103">11.97%</text><use href="#pD" x="271" y="45" class="b"/><use href="#pE2" x="271" y="60" class="ob"/></g>
<g id="m75"><text class="mn" x="511" y="-7.5">75</text><text class="s1" x="750" y="76">375</text><text class="s2" x="750" y="89.4">184862</text><text class="s3" x="750" y="103">0.00%</text><use href="#pA" x="511" class="gb"/></g>
<g id="m76"><text class="mn" x="751" y="-7.5">76</text><text class="s1" x="990" y="76">375</text><text class="s2" x="990" y="89.4">189362</text><text class="s3" x="990" y="103">0.00%</text><use href="#pB" x="751" class="gb"/></g>
</g>

<g id="row20" transform="translate(0,2884.5)">
<use href="#grid4"/>
<rect class="go" x="271" y="0" width="225" height="60"/>
<rect class="bo" x="31" y="0" width="230" height="60"/>
<rect class="pk" x="261" y="0" width="10" height="60"/>
<g id="m77"><text class="mn" x="31" y="-7.5">77</text><text class="s1" x="270" y="76">375</text><text class="s2" x="270" y="89.4">193862</text><text class="s3" x="270" y="103">0.00%</text><use href="#pA" x="31" class="gb"/></g>
<g id="m78"><text class="mn" x="271" y="-7.5">78</text><text class="s1" x="510" y="76">375</text><text class="s2" x="510" y="89.4">196262</text><text class="s3" x="510" y="103">25.00%</text><use href="#s" x="271" y="45" class="bs"/><use href="#s" x="301" y="45" class="bs"/><use href="#s" x="316" y="45" class="bs"/><use href="#s" x="331" y="45" class="bs"/><use href="#s" x="346" y="45" class="bs"/><use href="#s" x="361" y="45" class="bs"/><use href="#s" x="376" y="45" class="bs"/><use href="#s" x="391" y="60" class="os"/><use href="#s" x="406" y="60" class="os"/><use href="#s" x="421" y="60" class="os"/><use href="#s" x="436" y="60" class="os"/><use href="#s" x="451" y="60" class="os"/><use href="#s" x="466" y="60" class="os"/><use href="#s" x="481" y="60" class="os"/><use href="#s" x="496" y="60" class="os"/></g>
<g id="m79"><text class="mn" x="511" y="-7.5">79</text><text class="s1" x="750" y="76">350</text><text class="s2" x="750" y="89.4">198362</text><text class="s3" x="750" y="103">25.00%</text><use href="#pJ" x="511" y="30" class="y"/></g>
<g id="m80"><text class="mn" x="751" y="-7.5">80</text><text class="s1" x="990" y="76">325</text><text class="s2" x="990" y="89.4">200312</text><text class="s3" x="990" y="103">25.00%</text><use href="#c" x="751" y="45" class="b"/><use href="#c" x="781" y="45" class="b"/><use href="#c" x="796" y="45" class="b"/><use href="#c" x="811" y="45" class="b"/><use href="#c" x="826" y="45" class="b"/><use href="#c" x="841" y="45" class="b"/><use href="#c" x="856" y="60" class="o"/><use href="#c" x="871" y="60" class="o"/><use href="#c" x="901" y="60" class="o"/><use href="#c" x="916" y="60" class="o"/><use href="#c" x="931" y="60" class="o"/><use href="#c" x="946" y="60" class="o"/><use href="#c" x="961" y="60" class="o"/></g>
</g>

<g id="row21" transform="translate(0,3025.5)">
<use href="#grid4"/>
<g id="m81"><text class="mn" x="31" y="-7.5">81</text><text class="s1" x="270" y="76">375</text><text class="s2" x="270" y="89.4">202562</text><text class="s3" x="270" y="103">25.00%</text><use href="#c" x="31" y="30" class="y"/><use href="#c" x="61" y="30" class="y"/><use href="#c" x="76" y="30" class="y"/><use href="#c" x="91" y="30" class="y"/><use href="#c" x="106" y="30" class="y"/><use href="#c" x="121" y="30" class="y"/><use href="#c" x="136" y="30" class="y"/><use href="#c" x="151" y="30" class="y"/><use href="#c" x="166" y="30" class="y"/><use href="#c" x="181" y="30" class="y"/><use href="#c" x="196" y="30" class="y"/><use href="#c" x="211" y="30" class="y"/><use href="#c" x="226" y="30" class="y"/><use href="#c" x="241" y="30" class="y"/><use href="#c" x="256" y="45" class="b"/></g>
<g id="m82"><text class="mn" x="271" y="-7.5">82</text><text class="s1" x="510" y="76">275</text><text class="s2" x="510" y="89.4">204212</text><text class="s3" x="510" y="103">25.00%</text><use href="#c" x="271" y="45" class="b"/><use href="#c" x="301" y="45" class="b"/><use href="#c" x="316" y="45" class="b"/><use href="#c" x="331" y="45" class="b"/><use href="#c" x="361" y="45" class="b"/><use href="#c" x="391" y="15" class="r"/><use href="#c" x="406" y="15" class="r"/><use href="#c" x="421" y="15" class="r"/><use href="#c" x="436" y="15" class="r"/><use href="#c" x="466" y="15" class="r"/><use href="#c" x="481" y="15" class="r"/></g>
<g id="m83"><text class="mn" x="511" y="-7.5">83</text><text class="s1" x="750" y="76">350</text><text class="s2" x="750" y="89.4">206312</text><text class="s3" x="750" y="103">25.00%</text><use href="#pK" x="511" class="g"/></g>
<g id="m84"><text class="mn" x="751" y="-7.5">84</text><text class="s1" x="990" y="76">400</text><text class="s2" x="990" y="89.4">208712</text><text class="s3" x="990" y="103">25.00%</text><use href="#pAll" x="751" y="15" class="r"/></g>
</g>

<g id="row22" transform="translate(0,3166.5)">
<use href="#grid4"/>
<rect class="r" x="451" y="11.5" width="44" height="7"/>
<g id="m85"><text class="mn" x="31" y="-7.5">85</text><text class="s1" x="270" y="76">375</text><text class="s2" x="270" y="89.4">210962</text><text class="s3" x="270" y="103">25.00%</text><use href="#pA" x="31" y="30" class="y"/></g>
<g id="m86"><text class="mn" x="271" y="-7.5">86</text><text class="s1" x="510" y="76">134</text><text class="s2" x="510" y="89.4">211766</text><text class="s3" x="510" y="103">25.00%</text><use href="#c" x="271" y="45" class="b"/><use href="#c" x="316" y="45" class="b"/><use href="#c" x="361" y="45" class="b"/><use href="#c" x="411" y="30" class="y"/><use href="#c" x="451" y="15" class="r"/></g>
<g id="m87"><text class="mn" x="511" y="-7.5">87</text><text class="s1" x="750" y="76">200</text><text class="s2" x="750" y="89.4">212966</text><text class="s3" x="750" y="103">25.00%</text><use href="#pC" x="511" class="g"/></g>
<g id="m88"><text class="mn" x="751" y="-7.5">88</text><text class="s1" x="990" y="76">200</text><text class="s2" x="990" y="89.4">214166</text><text class="s3" x="990" y="103">25.00%</text><use href="#pC" x="751" y="45" class="b"/></g>
</g>

<g id="row23" transform="translate(0,3307.5)">
<use href="#grid4"/>
<rect class="go" x="271" y="0" width="210" height="60"/>
<g id="m89"><text class="mn" x="31" y="-7.5">89</text><text class="s1" x="270" y="76">200</text><text class="s2" x="270" y="89.4">215366</text><text class="s3" x="270" y="103">25.00%</text><use href="#pC" x="31" y="15" class="r"/></g>
<g id="m90"><text class="mn" x="271" y="-7.5">90</text><text class="s1" x="510" y="76">200</text><text class="s2" x="510" y="89.4">216566</text><text class="s3" x="510" y="103">50.00%</text><use href="#s" x="271" y="60" class="os"/><use href="#s" x="301" y="60" class="os"/><use href="#s" x="331" y="60" class="os"/><use href="#s" x="361" y="60" class="os"/><use href="#s" x="391" y="60" class="os"/><use href="#s" x="421" y="60" class="os"/><use href="#s" x="451" y="60" class="os"/><use href="#s" x="481" y="60" class="os"/></g>
<g id="m91"><text class="mn" x="511" y="-7.5">91</text><text class="s1" x="750" y="76">200</text><text class="s2" x="750" y="89.4">217766</text><text class="s3" x="750" y="103">50.00%</text><use href="#pC" x="511" class="g"/></g>
<g id="m92"><text class="mn" x="751" y="-7.5">92</text><text class="s1" x="990" y="76">225</text><text class="s2" x="990" y="89.4">219116</text><text class="s3" x="990" y="103">50.00%</text><use href="#pC2" x="751" y="45" class="b"/></g>
</g>

<g id="row24" transform="translate(0,3448.5)">
<use href="#grid4"/>
<rect class="pk" x="421" y="0" width="4" height="60"/>
<rect class="bo" x="425" y="0" width="566" height="60"/>
<g id="m93"><text class="mn" x="31" y="-7.5">93</text><text class="s1" x="270" y="76">200</text><text class="s2" x="270" y="89.4">220316</text><text class="s3" x="270" y="103">50.00%</text><use href="#pC" x="31" y="15" class="r"/></g>
<g id="m94"><text class="mn" x="271" y="-7.5">94</text><text class="s1" x="510" y="76">275</text><text class="s2" x="510" y="89.4">222866</text><text class="s3" x="510" y="103">45.60%</text><use href="#c" x="271" y="30" class="y"/><use href="#c" x="301" y="30" class="y"/><use href="#c" x="331" y="30" class="y"/><use href="#c" x="361" y="30" class="y"/><use href="#pE" x="271" y="45" class="b"/></g>
<g id="m95"><text class="mn" x="511" y="-7.5">95</text><text class="s1" x="750" y="76">350</text><text class="s2" x="750" y="89.4">227066</text><text class="s3" x="750" y="103">33.10%</text><use href="#pL" x="511" class="gb"/></g>
<g id="m96"><text class="mn" x="751" y="-7.5">96</text><text class="s1" x="990" y="76">300</text><text class="s2" x="990" y="89.4">230666</text><text class="s3" x="990" y="103">20.60%</text><use href="#pF" x="751" y="45" class="b"/></g>
</g>

<g id="row25" transform="translate(0,3589.5)">
<rect class="yl" x="751" y="-11" width="225" height="82"/>
<use href="#grid4"/>
<rect class="go" x="751" y="0" width="225" height="60"/>
<rect class="bo" x="31" y="0" width="395" height="60"/>
<rect class="pk" x="426" y="0" width="10" height="60"/>
<g id="m97"><text class="mn" x="31" y="-7.5">97</text><text class="s1" x="270" y="76">300</text><text class="s2" x="270" y="89.4">234266</text><text class="s3" x="270" y="103">8.10%</text><use href="#pH" x="31" y="15" class="rb"/></g>
<g id="m98"><text class="mn" x="271" y="-7.5">98</text><text class="s1" x="510" y="76">325</text><text class="s2" x="510" y="89.4">237716</text><text class="s3" x="510" y="103">0.00%</text><use href="#c" x="271" y="60" class="ob"/><use href="#c" x="301" y="60" class="ob"/><use href="#c" x="331" y="60" class="ob"/><use href="#c" x="346" y="60" class="ob"/><use href="#c" x="361" y="60" class="ob"/><use href="#c" x="376" y="60" class="ob"/><use href="#c" x="391" y="60" class="ob"/><use href="#c" x="406" y="60" class="ob"/><use href="#c" x="421" y="60" class="ob"/><use href="#c" x="436" y="60" class="o"/><use href="#c" x="466" y="60" class="o"/><use href="#c" x="481" y="60" class="o"/><use href="#c" x="496" y="60" class="o"/></g>
<g id="m99"><text class="mn" x="511" y="-7.5">99</text><text class="s1" x="750" y="76">300</text><text class="s2" x="750" y="89.4">239516</text><text class="s3" x="750" y="103">0.00%</text><use href="#pF" x="511" class="g"/></g>
<g id="m100"><text class="mn" x="751" y="-7.5">100</text><text class="s1" x="990" y="76">300</text><text class="s2" x="990" y="89.4">241316</text><text class="s3" x="990" y="103">25.00%</text><use href="#s" x="751" y="45" class="bs"/><use href="#s" x="781" y="45" class="bs"/><use href="#s" x="811" y="45" class="bs"/><use href="#s" x="826" y="45" class="bs"/><use href="#s" x="841" y="45" class="bs"/><use href="#s" x="856" y="45" class="bs"/><use href="#s" x="871" y="45" class="bs"/><use href="#s" x="901" y="45" class="bs"/><use href="#s" x="916" y="45" class="bs"/><use href="#s" x="946" y="45" class="bs"/><use href="#s" x="961" y="45" class="bs"/><use href="#s" x="976" y="0" class="gs"/></g>
</g>

<g id="row26" transform="translate(0,3730.5)">
<use href="#grid4"/>
<rect class="pk" x="226" y="0" width="5" height="60"/>
<rect class="bo" x="231" y="0" width="760" height="60"/>
<g id="m101"><text class="mn" x="31" y="-7.5">101</text><text class="s1" x="270" y="76">300</text><text class="s2" x="270" y="89.4">243566</text><text class="s3" x="270" y="103">22.95%</text><use href="#c" x="31" y="15" class="r"/><use href="#c" x="61" y="15" class="r"/><use href="#c" x="91" y="15" class="r"/><use href="#c" x="106" y="15" class="r"/><use href="#c" x="121" y="15" class="r"/><use href="#c" x="136" y="15" class="r"/><use href="#c" x="151" y="15" class="r"/><use href="#c" x="181" y="15" class="r"/><use href="#c" x="196" y="15" class="r"/><use href="#c" x="226" y="15" class="r"/><use href="#c" x="241" y="15" class="rb"/><use href="#c" x="256" y="30" class="yb"/></g>
<g id="m102"><text class="mn" x="271" y="-7.5">102</text><text class="s1" x="510" y="76">375</text><text class="s2" x="510" y="89.4">248066</text><text class="s3" x="510" y="103">10.45%</text><use href="#pD" x="271" y="45" class="b"/><use href="#pE2" x="271" y="60" class="ob"/></g>
<g id="m103"><text class="mn" x="511" y="-7.5">103</text><text class="s1" x="750" y="76">350</text><text class="s2" x="750" y="89.4">252266</text><text class="s3" x="750" y="103">0.00%</text><use href="#pL" x="511" class="gb"/></g>
<g id="m104"><text class="mn" x="751" y="-7.5">104</text><text class="s1" x="990" y="76">300</text><text class="s2" x="990" y="89.4">255866</text><text class="s3" x="990" y="103">0.00%</text><use href="#pF" x="751" y="45" class="b"/></g>
</g>

<g id="row27" transform="translate(0,3871.5)">
<use href="#grid4"/>
<rect class="bo" x="31" y="0" width="200" height="60"/>
<rect class="pk" x="231" y="0" width="10" height="60"/>
<g id="m105"><text class="mn" x="31" y="-7.5">105</text><text class="s1" x="270" y="76">300</text><text class="s2" x="270" y="89.4">259466</text><text class="s3" x="270" y="103">0.00%</text><use href="#c" x="31" y="15" class="rb"/><use href="#c" x="61" y="15" class="rb"/><use href="#c" x="91" y="15" class="rb"/><use href="#c" x="106" y="15" class="rb"/><use href="#c" x="121" y="15" class="rb"/><use href="#c" x="136" y="15" class="rb"/><use href="#c" x="151" y="15" class="rb"/><use href="#c" x="181" y="15" class="rb"/><use href="#c" x="196" y="15" class="rb"/><use href="#c" x="211" y="15" class="rb"/><use href="#c" x="226" y="15" class="rb"/><use href="#c" x="241" y="15" class="r"/></g>
<g id="m106"><text class="mn" x="271" y="-7.5">106</text><text class="s1" x="510" y="76">325</text><text class="s2" x="510" y="89.4">261416</text><text class="s3" x="510" y="103">0.00%</text><use href="#pG" x="271" y="60" class="o"/></g>
<g id="m107"><text class="mn" x="511" y="-7.5">107</text><text class="s1" x="750" y="76">300</text><text class="s2" x="750" y="89.4">263216</text><text class="s3" x="750" y="103">0.00%</text><use href="#pF" x="511" class="g"/></g>
<g id="m108"><text class="mn" x="751" y="-7.5">108</text><text class="s1" x="990" y="76">300</text><text class="s2" x="990" y="89.4">265016</text><text class="s3" x="990" y="103">0.00%</text><use href="#pF2" x="751" y="45" class="b"/><use href="#c" x="976" class="g"/></g>
</g>

<g id="row28" transform="translate(0,4012.5)">
<use href="#grid4"/>
<rect class="g" x="511" y="-3.5" width="45" height="7"/>
<rect class="g" x="751" y="-3.5" width="45" height="7"/>
<rect class="o" x="946" y="56.5" width="30" height="7"/>
<g id="m109"><text class="mn" x="31" y="-7.5">109</text><text class="s1" x="270" y="76">300</text><text class="s2" x="270" y="89.4">266816</text><text class="s3" x="270" y="103">0.00%</text><use href="#pF2" x="31" y="15" class="r"/><use href="#c" x="256" y="30" class="y"/></g>
<g id="m110"><text class="mn" x="271" y="-7.5">110</text><text class="s1" x="510" y="76">375</text><text class="s2" x="510" y="89.4">269066</text><text class="s3" x="510" y="103">0.00%</text><use href="#pD" x="271" y="45" class="b"/><use href="#pE2" x="271" y="60" class="o"/></g>
<g id="m111"><text class="mn" x="511" y="-7.5">111</text><text class="s1" x="750" y="76">34</text><text class="s2" x="750" y="89.4">269270</text><text class="s3" x="750" y="103">0.00%</text><use href="#c" x="511" class="g"/></g>
<g id="m112"><text class="mn" x="751" y="-7.5">112</text><text class="s1" x="990" y="76">90</text><text class="s2" x="990" y="89.4">269810</text><text class="s3" x="990" y="103">0.00%</text><use href="#c" x="751" class="g"/><use href="#c" x="931" y="45" class="b"/><use href="#c" x="946" y="60" class="o"/></g>
</g>

<g id="row29" transform="translate(0,4153.5)">
<use href="#grid3"/>
<rect class="g" x="31" y="-3.5" width="45" height="7"/>
<rect class="y" x="436" y="26.5" width="45" height="7"/>
<rect class="g" x="511" y="-3.5" width="45" height="7"/>
<g id="m113"><text class="mn" x="31" y="-7.5">113</text><text class="s1" x="270" y="76">34</text><text class="s2" x="270" y="89.4">270014</text><text class="s3" x="270" y="103">0.00%</text><use href="#c" x="31" class="g"/></g>
<g id="m114"><text class="mn" x="271" y="-7.5">114</text><text class="s1" x="510" y="76">234</text><text class="s2" x="510" y="89.4">271418</text><text class="s3" x="510" y="103">0.00%</text><use href="#c" x="271" y="15" class="r"/><use href="#c" x="286" y="15" class="r"/><use href="#c" x="316" y="15" class="r"/><use href="#c" x="331" y="15" class="r"/><use href="#c" x="361" y="15" class="r"/><use href="#c" x="376" y="15" class="r"/><use href="#c" x="391" y="30" class="y"/><use href="#c" x="406" y="30" class="y"/><use href="#c" x="436" y="30" class="y"/></g>
<g id="m115"><text class="mn" x="511" y="-7.5">115</text><text class="s1" x="750" y="76">34</text><text class="s2" x="750" y="89.4">271622</text><text class="s3" x="750" y="103">0.00%</text><use href="#c" x="511" class="g"/></g>
</g>
</g>
</svg>
